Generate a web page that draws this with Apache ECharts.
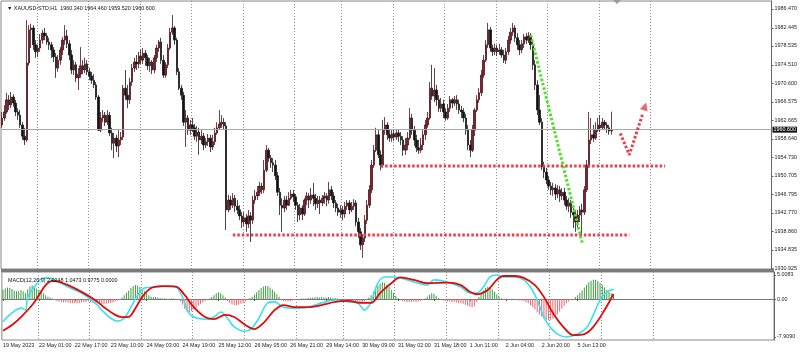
<!DOCTYPE html>
<html>
<head>
<meta charset="utf-8">
<script src="https://cdn.jsdelivr.net/npm/echarts@6/dist/echarts.min.js"></script>
<style>
  html, body { margin: 0; background: #fff; }
  #chart { width: 800px; height: 352px; }
</style>
</head>
<body>
<div id="chart"></div>
<script>
// XAUUSD H1, 19 May - 6 Jun 2023 (one entry per bar)
const opens = [
  1961.6, 1963.1, 1964.4, 1967.0, 1965.9, 1967.6, 1966.3, 1964.4, 1963.7, 1961.6,
  1959.2, 1958.4, 1974.9, 1982.0, 1982.4, 1978.8, 1977.3, 1978.1, 1979.8, 1981.3,
  1980.7, 1979.4, 1978.8, 1977.7, 1976.2, 1973.8, 1975.5, 1977.7, 1979.8, 1980.7,
  1979.0, 1976.6, 1973.4, 1974.5, 1971.7, 1972.5, 1974.3, 1973.4, 1974.7, 1973.0,
  1972.1, 1971.2, 1970.2, 1967.6, 1960.5, 1963.1, 1963.7, 1962.2, 1963.7, 1959.9,
  1957.7, 1958.8, 1957.1, 1958.4, 1959.0, 1969.5, 1968.0, 1967.0, 1970.8, 1973.8,
  1975.1, 1974.7, 1976.4, 1975.5, 1977.0, 1976.0, 1974.3, 1975.1, 1973.4, 1976.0,
  1978.1, 1979.4, 1975.5, 1972.3, 1974.5, 1978.1, 1981.5, 1982.4, 1979.8, 1973.0,
  1969.5, 1968.0, 1962.2, 1963.1, 1960.5, 1961.6, 1961.0, 1959.2, 1960.1, 1958.4,
  1959.2, 1957.3, 1958.0, 1958.8, 1956.9, 1958.0, 1959.9, 1961.0, 1961.8, 1962.2,
  1961.4, 1943.4, 1945.5, 1944.4, 1945.9, 1944.2, 1943.4, 1942.1, 1940.8, 1941.7,
  1940.4, 1942.1, 1941.2, 1945.5, 1946.4, 1947.2, 1948.5, 1947.7, 1951.9, 1956.2,
  1954.5, 1953.5, 1953.0, 1950.7, 1947.2, 1944.4, 1943.8, 1945.5, 1944.4, 1945.9,
  1946.8, 1946.2, 1944.4, 1942.3, 1943.8, 1942.5, 1945.5, 1946.4, 1945.5, 1946.6,
  1945.9, 1944.7, 1945.5, 1944.9, 1945.9, 1946.4, 1945.5, 1947.7, 1946.4, 1944.9,
  1943.8, 1942.9, 1943.4, 1942.5, 1944.2, 1944.9, 1943.4, 1944.2, 1944.9, 1940.8,
  1938.7, 1935.9, 1937.4, 1941.2, 1944.4, 1947.7, 1953.0, 1956.2, 1959.5, 1955.2,
  1953.0, 1960.5, 1961.6, 1959.5, 1958.8, 1959.7, 1959.0, 1959.9, 1959.2, 1958.4,
  1956.2, 1957.3, 1958.8, 1963.1, 1960.5, 1958.4, 1956.7, 1956.2, 1957.3, 1959.5,
  1961.6, 1963.1, 1969.5, 1967.8, 1969.1, 1967.0, 1965.2, 1966.1, 1964.4, 1963.1,
  1965.2, 1967.0, 1966.3, 1967.0, 1966.1, 1964.8, 1964.4, 1963.1, 1960.5, 1957.3,
  1956.2, 1960.5, 1964.8, 1967.0, 1968.5, 1972.3, 1975.5, 1978.8, 1982.0, 1978.1,
  1977.3, 1978.1, 1977.3, 1977.7, 1976.6, 1975.5, 1977.3, 1979.8, 1981.5, 1982.4,
  1980.3, 1978.8, 1977.7, 1979.0, 1980.5, 1979.8, 1980.7, 1978.8, 1974.5, 1970.2,
  1964.8, 1962.2, 1952.6, 1951.5, 1949.8, 1948.5, 1947.7, 1948.1, 1946.8, 1947.7,
  1946.4, 1947.2, 1945.5, 1944.2, 1944.9, 1942.9, 1942.3, 1940.8, 1942.3, 1943.4,
  1942.9, 1947.7, 1953.0, 1958.4, 1959.5, 1958.8, 1960.5, 1961.6, 1961.0, 1962.2,
  1961.6, 1961.0, 1960.34
];
const closes = [
  1963.1, 1964.4, 1967.0, 1965.9, 1967.6, 1966.3, 1964.4, 1963.7, 1961.6, 1959.2,
  1958.4, 1974.9, 1982.0, 1982.4, 1978.8, 1977.3, 1978.1, 1979.8, 1981.3, 1980.7,
  1979.4, 1978.8, 1977.7, 1976.2, 1973.8, 1975.5, 1977.7, 1979.8, 1980.7, 1979.0,
  1976.6, 1973.4, 1974.5, 1971.7, 1972.5, 1974.3, 1973.4, 1974.7, 1973.0, 1972.1,
  1971.2, 1970.2, 1967.6, 1960.5, 1963.1, 1963.7, 1962.2, 1963.7, 1959.9, 1957.7,
  1958.8, 1957.1, 1958.4, 1959.0, 1969.5, 1968.0, 1967.0, 1970.8, 1973.8, 1975.1,
  1974.7, 1976.4, 1975.5, 1977.0, 1976.0, 1974.3, 1975.1, 1973.4, 1976.0, 1978.1,
  1979.4, 1975.5, 1972.3, 1974.5, 1978.1, 1981.5, 1982.4, 1979.8, 1973.0, 1969.5,
  1968.0, 1962.2, 1963.1, 1960.5, 1961.6, 1961.0, 1959.2, 1960.1, 1958.4, 1959.2,
  1957.3, 1958.0, 1958.8, 1956.9, 1958.0, 1959.9, 1961.0, 1961.8, 1962.2, 1961.4,
  1943.4, 1945.5, 1944.4, 1945.9, 1944.2, 1943.4, 1942.1, 1940.8, 1941.7, 1940.4,
  1942.1, 1941.2, 1945.5, 1946.4, 1947.2, 1948.5, 1947.7, 1951.9, 1956.2, 1954.5,
  1953.5, 1953.0, 1950.7, 1947.2, 1944.4, 1943.8, 1945.5, 1944.4, 1945.9, 1946.8,
  1946.2, 1944.4, 1942.3, 1943.8, 1942.5, 1945.5, 1946.4, 1945.5, 1946.6, 1945.9,
  1944.7, 1945.5, 1944.9, 1945.9, 1946.4, 1945.5, 1947.7, 1946.4, 1944.9, 1943.8,
  1942.9, 1943.4, 1942.5, 1944.2, 1944.9, 1943.4, 1944.2, 1944.9, 1940.8, 1938.7,
  1935.9, 1937.4, 1941.2, 1944.4, 1947.7, 1953.0, 1956.2, 1959.5, 1955.2, 1953.0,
  1960.5, 1961.6, 1959.5, 1958.8, 1959.7, 1959.0, 1959.9, 1959.2, 1958.4, 1956.2,
  1957.3, 1958.8, 1963.1, 1960.5, 1958.4, 1956.7, 1956.2, 1957.3, 1959.5, 1961.6,
  1963.1, 1969.5, 1967.8, 1969.1, 1967.0, 1965.2, 1966.1, 1964.4, 1963.1, 1965.2,
  1967.0, 1966.3, 1967.0, 1966.1, 1964.8, 1964.4, 1963.1, 1960.5, 1957.3, 1956.2,
  1960.5, 1964.8, 1967.0, 1968.5, 1972.3, 1975.5, 1978.8, 1982.0, 1978.1, 1977.3,
  1978.1, 1977.3, 1977.7, 1976.6, 1975.5, 1977.3, 1979.8, 1981.5, 1982.4, 1980.3,
  1978.8, 1977.7, 1979.0, 1980.5, 1979.8, 1980.7, 1978.8, 1974.5, 1970.2, 1964.8,
  1962.2, 1952.6, 1951.5, 1949.8, 1948.5, 1947.7, 1948.1, 1946.8, 1947.7, 1946.4,
  1947.2, 1945.5, 1944.2, 1944.9, 1942.9, 1942.3, 1940.8, 1942.3, 1943.4, 1942.9,
  1947.7, 1953.0, 1958.4, 1959.5, 1958.8, 1960.5, 1961.6, 1961.0, 1962.2, 1961.6,
  1961.0, 1960.3, 1960.60
];
const lows = [
  1961.0, 1962.5, 1964.0, 1964.8, 1965.2, 1965.5, 1963.5, 1962.7, 1961.0, 1958.4,
  1957.3, 1958.0, 1974.3, 1978.1, 1977.7, 1976.0, 1976.2, 1977.3, 1979.0, 1979.8,
  1978.8, 1977.7, 1976.0, 1975.1, 1971.7, 1973.0, 1974.5, 1976.6, 1978.8, 1978.1,
  1975.5, 1972.5, 1972.3, 1970.8, 1969.1, 1971.7, 1972.5, 1972.7, 1972.3, 1971.2,
  1970.4, 1969.5, 1967.0, 1960.3, 1960.1, 1962.2, 1961.4, 1961.6, 1959.2, 1956.2,
  1954.5, 1955.8, 1954.7, 1957.3, 1958.4, 1967.0, 1965.2, 1966.1, 1970.0, 1973.0,
  1973.4, 1973.8, 1974.7, 1974.7, 1974.3, 1973.4, 1973.0, 1972.5, 1972.7, 1975.1,
  1977.3, 1974.7, 1971.7, 1971.7, 1973.8, 1977.7, 1980.9, 1978.8, 1972.3, 1969.1,
  1967.0, 1961.4, 1956.9, 1959.5, 1959.5, 1960.1, 1958.4, 1958.0, 1955.2, 1957.5,
  1956.2, 1956.7, 1957.1, 1955.8, 1956.2, 1957.3, 1959.5, 1960.5, 1961.0, 1960.5,
  1939.1, 1942.9, 1943.4, 1943.8, 1942.9, 1942.5, 1941.2, 1939.5, 1939.9, 1938.7,
  1939.5, 1936.5, 1940.4, 1944.7, 1945.5, 1946.4, 1946.8, 1947.0, 1951.5, 1953.7,
  1952.4, 1951.5, 1949.8, 1946.4, 1942.3, 1938.7, 1942.9, 1943.4, 1944.2, 1945.5,
  1945.1, 1943.4, 1940.8, 1941.2, 1941.2, 1942.1, 1944.4, 1943.8, 1944.7, 1944.2,
  1943.4, 1943.8, 1942.5, 1944.2, 1944.7, 1944.2, 1944.7, 1945.5, 1943.8, 1942.9,
  1942.1, 1941.7, 1941.2, 1941.7, 1943.4, 1942.5, 1942.9, 1943.4, 1939.9, 1937.4,
  1934.8, 1933.1, 1936.5, 1940.4, 1943.8, 1947.0, 1952.4, 1955.8, 1954.5, 1951.9,
  1952.4, 1959.5, 1958.4, 1958.0, 1958.0, 1958.2, 1958.4, 1958.0, 1957.3, 1955.0,
  1955.2, 1956.2, 1958.4, 1959.5, 1957.1, 1955.8, 1955.4, 1955.6, 1956.2, 1958.4,
  1961.0, 1962.7, 1967.0, 1966.5, 1965.7, 1964.4, 1964.4, 1963.1, 1962.5, 1962.7,
  1964.4, 1965.2, 1965.7, 1964.8, 1964.0, 1963.1, 1962.2, 1959.5, 1956.2, 1954.7,
  1955.8, 1959.2, 1964.4, 1966.3, 1967.8, 1971.7, 1975.1, 1978.1, 1977.3, 1976.4,
  1976.6, 1976.4, 1976.6, 1976.0, 1974.9, 1974.7, 1976.6, 1979.0, 1980.7, 1979.4,
  1977.7, 1976.6, 1977.0, 1978.1, 1979.0, 1979.2, 1977.7, 1973.4, 1969.1, 1963.7,
  1961.6, 1951.9, 1950.2, 1948.9, 1947.7, 1946.6, 1946.4, 1945.5, 1945.9, 1945.1,
  1945.5, 1944.4, 1943.4, 1942.9, 1941.7, 1939.5, 1938.7, 1939.5, 1940.8, 1937.8,
  1942.3, 1947.2, 1952.4, 1957.5, 1958.0, 1958.4, 1960.1, 1960.1, 1960.5, 1960.5,
  1959.9, 1959.5, 1959.52
];
const highs = [
  1964.4, 1965.9, 1968.5, 1968.0, 1968.7, 1968.2, 1967.0, 1965.2, 1964.8, 1962.2,
  1961.0, 1984.1, 1983.0, 1983.3, 1983.0, 1979.8, 1978.8, 1981.1, 1982.0, 1982.4,
  1981.3, 1980.3, 1979.4, 1978.3, 1977.0, 1976.6, 1978.3, 1980.5, 1983.0, 1982.0,
  1979.8, 1977.7, 1975.5, 1975.1, 1973.8, 1978.3, 1975.5, 1976.0, 1975.5, 1973.8,
  1973.0, 1972.5, 1970.8, 1968.0, 1964.4, 1964.8, 1964.4, 1964.8, 1964.4, 1961.0,
  1959.9, 1959.5, 1960.5, 1960.1, 1970.2, 1973.4, 1970.2, 1971.7, 1974.7, 1976.0,
  1976.6, 1977.3, 1977.7, 1978.1, 1977.7, 1976.6, 1976.0, 1975.5, 1976.6, 1978.8,
  1979.8, 1980.3, 1976.6, 1975.1, 1979.0, 1982.4, 1985.2, 1982.8, 1980.3, 1973.8,
  1970.2, 1968.7, 1964.8, 1963.7, 1962.7, 1963.1, 1961.8, 1961.4, 1961.0, 1960.5,
  1959.9, 1958.8, 1959.7, 1959.5, 1959.5, 1961.0, 1962.2, 1964.8, 1963.7, 1963.1,
  1962.2, 1946.6, 1946.4, 1947.0, 1946.6, 1945.5, 1944.4, 1942.9, 1942.9, 1942.5,
  1943.4, 1942.9, 1946.4, 1947.7, 1948.5, 1949.4, 1949.2, 1954.1, 1957.3, 1956.7,
  1955.2, 1954.5, 1954.1, 1951.5, 1948.1, 1945.9, 1946.4, 1946.4, 1947.2, 1947.7,
  1947.7, 1946.8, 1945.1, 1944.7, 1944.4, 1945.9, 1947.2, 1947.0, 1948.1, 1949.2,
  1946.8, 1946.4, 1946.4, 1946.6, 1947.2, 1947.0, 1949.4, 1948.5, 1947.2, 1945.5,
  1944.7, 1944.4, 1944.2, 1945.1, 1945.5, 1945.5, 1945.1, 1945.7, 1945.5, 1941.7,
  1939.5, 1938.2, 1942.3, 1945.5, 1948.7, 1954.1, 1957.3, 1961.0, 1960.5, 1956.2,
  1962.7, 1963.3, 1962.2, 1960.5, 1960.5, 1960.5, 1960.7, 1960.5, 1960.1, 1959.2,
  1958.8, 1960.1, 1965.2, 1964.0, 1961.4, 1959.5, 1958.4, 1958.8, 1960.5, 1962.7,
  1964.4, 1970.8, 1974.5, 1973.8, 1970.2, 1968.0, 1967.4, 1967.0, 1965.2, 1966.1,
  1967.8, 1967.4, 1967.8, 1968.0, 1967.0, 1965.7, 1965.2, 1964.0, 1961.6, 1958.4,
  1961.6, 1965.2, 1968.0, 1969.5, 1973.4, 1976.6, 1979.8, 1983.5, 1982.6, 1978.8,
  1979.0, 1978.8, 1979.0, 1978.3, 1977.7, 1978.1, 1980.7, 1982.4, 1983.5, 1983.0,
  1981.3, 1979.8, 1979.8, 1981.1, 1981.3, 1981.5, 1981.3, 1979.8, 1975.5, 1971.2,
  1968.0, 1963.1, 1953.7, 1952.4, 1950.7, 1949.4, 1949.2, 1948.9, 1948.7, 1948.5,
  1948.1, 1948.1, 1946.4, 1945.9, 1945.5, 1943.8, 1943.4, 1943.4, 1944.2, 1944.7,
  1948.5, 1954.1, 1964.4, 1963.1, 1961.6, 1962.2, 1963.1, 1963.7, 1963.1, 1962.7,
  1962.2, 1961.6, 1964.46
];

// MACD(12,26,9): histogram per bar, main and signal lines read at sample bars
const macdHist = [
  2.0, 2.2, 2.4, 2.3, 2.1, 1.8, 1.6, 1.7, 1.9, 1.6,
  1.2, 2.0, 2.6, 2.8, 2.6, 2.2, 1.9, 1.6, 1.2, 0.8,
  0.5, 0.3, 0.1, -0.2, -0.4, -0.5, -0.6, -0.7, -0.6, -0.7,
  -0.8, -0.9, -0.8, -0.9, -0.8, -0.7, -0.6, -0.6, -0.5, -0.6,
  -0.7, -0.8, -0.9, -1.1, -1.2, -1.1, -1.0, -0.9, -0.8, -0.7,
  -0.5, -0.3, -0.1, 0.3, 0.8, 1.3, 1.8, 2.3, 2.7, 2.9,
  2.8, 2.5, 2.1, 1.6, 1.2, 0.8, 0.5, 0.4, 0.4, 0.3,
  0.2, 0.1, 0.1, 0.05, 0.05, 0.1, 0.1, 0.0, -0.1, -0.5,
  -1.2, -2.0, -2.6, -2.7, -2.5, -2.2, -1.8, -1.4, -1.0, -0.7,
  -0.4, -0.2, 0.1, 0.4, 0.8, 1.2, 1.4, 1.2, 0.8, 0.3,
  -0.4, -0.8, -1.1, -1.3, -1.3, -1.2, -1.0, -0.8, -0.5, -0.2,
  0.2, 0.5, 0.9, 1.4, 1.9, 2.3, 2.6, 2.7, 2.7, 2.4,
  2.0, 1.5, 1.0, 0.5, -0.2, -0.4, -0.5, -0.5, -0.4, -0.3,
  -0.2, -0.1, 0.0, 0.1, 0.1, 0.1, 0.2, 0.2, 0.3, 0.3,
  0.4, 0.3, 0.4, 0.3, 0.3, 0.4, 0.3, 0.2, 0.2, 0.1,
  0.0, -0.1, -0.2, -0.3, -0.4, -0.5, -0.6, -0.7, -0.8, -0.8,
  -0.7, -0.5, -0.2, 0.3, 0.8, 1.5, 2.2, 2.8, 3.2, 3.5,
  3.4, 3.0, 2.5, 1.9, 1.3, 0.7, 0.2, -0.2, -0.4, -0.5,
  -0.6, -0.6, -0.5, -0.5, -0.6, -0.5, -0.4, -0.2, 0.1, 0.5,
  0.9, 1.2, 1.1, 0.7, 0.2, -0.1, -0.3, -0.4, -0.5, -0.5,
  -0.6, -0.6, -0.7, -0.8, -0.9, -1.0, -1.2, -1.4, -1.6, -1.7,
  -1.5, -0.6, 0.4, 1.2, 1.8, 2.3, 2.5, 2.4, 2.0, 1.5,
  1.0, 0.5, 0.1, -0.1, -0.2, -0.2, -0.1, -0.1, -0.1, -0.2,
  -0.3, -0.3, -0.4, -0.6, -0.9, -1.3, -1.7, -2.2, -2.7, -3.2,
  -3.7, -4.1, -4.4, -4.4, -4.3, -4.1, -3.7, -3.2, -2.6, -2.0,
  -1.4, -0.9, -0.5, -0.2, 0.0, 0.4, 0.8, 1.3, 1.8, 2.4,
  3.0, 3.5, 3.8, 4.0, 4.0, 3.8, 3.4, 2.9, 2.4, 1.9,
  1.5, 1.2, 0.98
];
const macdMain = [
  [0, -4.7], [4, -2.9], [8, -1.9], [10, -2.3], [11, 0.4], [14, 2.5], [17, 4.2], [20, 4.4],
  [25, 3.5], [29, 2.5], [35, 1.25], [41, -0.8], [44, -2.3], [48, -4.0], [51, -4.6], [54, -4.0],
  [57, -1.7], [60, 0.8], [63, 2.3], [68, 2.5], [72, 2.7], [77, 2.5], [80, 0.4], [82, -2.3],
  [85, -3.75], [91, -4.2], [94, -3.75], [97, -2.7], [100, -4.0], [103, -5.8], [108, -6.7], [111, -6.0],
  [114, -4.0], [118, -0.8], [121, -0.6], [125, -1.7], [130, -1.9], [136, -1.7], [142, -0.8], [148, -0.2],
  [154, -0.6], [158, -0.8], [161, -2.3], [164, -0.6], [167, 3.3], [170, 4.6], [174, 4.6], [177, 4.4],
  [185, 3.3], [189, 2.9], [192, 4.0], [198, 3.5], [204, 2.5], [208, 1.25], [211, 1.25], [214, 2.5],
  [217, 4.6], [220, 5.0], [223, 4.6], [228, 4.6], [232, 4.0], [235, 2.5], [238, -0.2], [241, -3.75],
  [244, -6.0], [247, -7.3], [251, -7.9], [256, -7.3], [260, -6.0], [263, -3.3], [266, -0.2], [269, 1.5],
  [272, 2.02]
];
const macdSignal = [
  [0, -6.6], [4, -5.4], [8, -3.75], [13, -1.25], [16, 0.8], [19, 2.9], [22, 3.8], [25, 3.6],
  [29, 2.9], [35, 1.5], [41, -0.2], [45, -1.7], [50, -3.3], [53, -3.75], [56, -3.7], [59, -1.9],
  [62, 0.4], [66, 2.3], [71, 2.7], [77, 2.6], [81, 0.8], [85, -1.7], [90, -3.75], [94, -4.2],
  [99, -3.3], [103, -3.75], [108, -5.4], [112, -6.25], [116, -5.0], [121, -2.3], [125, -1.25], [130, -1.7],
  [136, -1.7], [142, -1.25], [148, -0.6], [154, -0.4], [159, -0.8], [164, -0.8], [168, 1.25], [173, 3.3],
  [177, 4.5], [183, 4.0], [189, 3.3], [198, 3.4], [204, 2.9], [208, 1.5], [211, 1.0], [216, 1.9],
  [220, 4.0], [223, 4.8], [228, 4.8], [232, 4.4], [237, 2.9], [241, 0.4], [245, -2.9], [250, -6.0],
  [254, -7.5], [259, -7.3], [263, -5.8], [268, -2.3], [272, 1.05]
];
const macdHeader = ['2.0248', '1.0473', '0.9775', '0.0000'];

// hand-drawn annotations, as [bar, price]
const lowerSupport = [[103, 1938.0], [280, 1938.0]];
const upperSupport = [[169, 1952.8], [296, 1952.8]];
const greenTrend = [[236, 1980.9], [259, 1936.3]];
const arrowPath = [[276, 1959.8], [280, 1955.2], [286, 1964.0]];
const arrowHead = [[287, 1965.6]];

// axes
const priceTicks = [1986.470, 1982.445, 1978.535, 1974.510, 1970.600, 1966.575, 1962.665, 1958.640,
  1954.730, 1950.705, 1946.795, 1942.770, 1938.860, 1934.835, 1930.925];
const macdTicks = [5.0083, 0, -7.909];
const macdTickLabels = ['5.0083', '0.00', '-7.9090'];
const dayStarts = [16, 39, 62, 85, 108, 131, 152, 175, 198, 221, 244, 267, 290];
const dateLabelIdx = [0, 16, 32, 48, 64, 80, 96, 112, 128, 144, 160, 176, 192, 208, 224, 240, 256];
const dateLabels = ['19 May 2023', '22 May 01:00', '22 May 17:00', '23 May 10:00', '24 May 03:00',
  '24 May 19:00', '25 May 12:00', '26 May 05:00', '26 May 21:00', '29 May 14:00', '30 May 09:00',
  '31 May 02:00', '31 May 18:00', '1 Jun 11:00', '2 Jun 04:00', '2 Jun 20:00', '5 Jun 13:00'];

const slotCount = 344;
const priceMin = 1930.726, priceMax = 1988.185;
const macdMin = -8.534, macdMax = 5.633;

const FONT = "'Liberation Sans', Arial, sans-serif";
const RED_DOT = '#e6404c';
const GRID_DOT = '#8c8c8c';

const categories = Array.from({ length: slotCount }, (_, i) => String(i));
const candles = opens.map((o, i) => [o, closes[i], lows[i], highs[i]]);
const last = closes.length - 1;
const header = `▼ XAUUSD-STD,H1  ${opens[last].toFixed(3)} ${highs[last].toFixed(3)} ` +
  `${lows[last].toFixed(3)} ${closes[last].toFixed(3)}`;

function dottedLine(data, color) {
  return {
    type: 'line', xAxisIndex: 0, yAxisIndex: 0, data, symbol: 'none', silent: true, z: 5,
    lineStyle: { color, width: 3, type: [2.5, 2] },
  };
}

const daySplit = {
  show: true,
  interval: (i) => dayStarts.includes(i),
  lineStyle: { color: GRID_DOT, width: 1, type: [1, 2] },
};

const chart = echarts.init(document.getElementById('chart'), null, { renderer: 'canvas' });
chart.setOption({
  animation: false,
  backgroundColor: '#fff',
  textStyle: { fontFamily: FONT },
  title: [
    { text: header, left: 2, top: 1, textStyle: { fontSize: 5.4, fontWeight: 'normal', color: '#111', fontFamily: FONT } },
    { text: 'MACD(12,26,9) ' + macdHeader.join(' '), left: 3, top: 273,
      textStyle: { fontSize: 5.4, fontWeight: 'normal', color: '#111', fontFamily: FONT } },
  ],
  grid: [
    { left: 1, top: 1, width: 773, height: 268, show: true, borderColor: '#888', borderWidth: 1 },
    { left: 1, top: 272, width: 773, height: 68, show: true, borderColor: '#888', borderWidth: 1 },
  ],
  xAxis: [
    {
      type: 'category', gridIndex: 0, data: categories, boundaryGap: true,
      axisLine: { show: false }, axisTick: { show: false }, axisLabel: { show: false },
      splitLine: daySplit,
    },
    {
      type: 'category', gridIndex: 1, data: categories, boundaryGap: true,
      axisLine: { show: true, lineStyle: { color: '#777' } },
      axisTick: { show: true, alignWithLabel: true, length: 2, interval: (i) => dateLabelIdx.includes(i), lineStyle: { color: '#555' } },
      axisLabel: {
        interval: (i) => dateLabelIdx.includes(i),
        formatter: (v, i) => dateLabels[dateLabelIdx.indexOf(i)] || '',
        align: 'left', fontSize: 5.4, color: '#222', margin: 3, fontFamily: FONT,
      },
      splitLine: daySplit,
    },
  ],
  yAxis: [
    {
      type: 'value', gridIndex: 0, position: 'right', min: priceMin, max: priceMax, scale: true,
      axisLine: { show: true, lineStyle: { color: '#666' } },
      axisTick: { show: true, length: 2, customValues: priceTicks, lineStyle: { color: '#666' } },
      axisLabel: { customValues: priceTicks, formatter: (v) => v.toFixed(3), fontSize: 5.4, color: '#222', margin: 3, fontFamily: FONT },
      splitLine: { show: false },
    },
    {
      type: 'value', gridIndex: 1, position: 'right', min: macdMin, max: macdMax,
      axisLine: { show: true, lineStyle: { color: '#666' } },
      axisTick: { show: true, length: 2, customValues: macdTicks, lineStyle: { color: '#666' } },
      axisLabel: {
        customValues: macdTicks,
        formatter: (v) => {
          let k = 0;
          macdTicks.forEach((t, j) => { if (Math.abs(t - v) < Math.abs(macdTicks[k] - v)) k = j; });
          return macdTickLabels[k];
        },
        fontSize: 5.4, color: '#222', margin: 3, fontFamily: FONT,
      },
      splitLine: { show: false },
    },
  ],
  graphic: [
    { type: 'rect', shape: { x: 1, y: 269, width: 773, height: 3 }, style: { fill: '#7a7a7a' }, z: 10 },
    { type: 'polygon', shape: { points: [[613, 0], [621, 0], [617, 4]] }, style: { fill: '#9a9a9a' }, z: 10 },
  ],
  series: [
    {
      type: 'candlestick', xAxisIndex: 0, yAxisIndex: 0, data: candles, barWidth: 2,
      itemStyle: { color: '#7e2432', color0: '#111', borderColor: '#4e121b', borderColor0: '#1a1a1a', borderWidth: 0.8 },
      markLine: {
        silent: true, symbol: 'none', animation: false,
        lineStyle: { color: '#a6a6a6', width: 1, type: 'solid' },
        label: {
          position: 'end', distance: 1, formatter: closes[last].toFixed(3),
          color: '#fff', backgroundColor: '#111', padding: [1, 1, 0, 1], fontSize: 5.4, fontFamily: FONT,
        },
        data: [{ yAxis: closes[last] }],
      },
    },
    dottedLine(lowerSupport, RED_DOT),
    dottedLine(upperSupport, RED_DOT),
    dottedLine(greenTrend, '#4ede2c'),
    dottedLine(arrowPath, RED_DOT),
    {
      type: 'scatter', xAxisIndex: 0, yAxisIndex: 0, data: arrowHead, silent: true, z: 6,
      symbol: 'triangle', symbolSize: [8, 8], symbolRotate: -18, itemStyle: { color: RED_DOT },
    },
    {
      type: 'bar', xAxisIndex: 1, yAxisIndex: 1, data: macdHist, barWidth: 1, silent: true,
      itemStyle: { color: (p) => (p.value >= 0 ? '#3e9a42' : '#e4666f') },
    },
    {
      type: 'line', xAxisIndex: 1, yAxisIndex: 1, data: macdMain, symbol: 'none', smooth: 0.35, silent: true,
      lineStyle: { color: '#36e2ee', width: 1.6 },
    },
    {
      type: 'line', xAxisIndex: 1, yAxisIndex: 1, data: macdSignal, symbol: 'none', smooth: 0.35, silent: true,
      lineStyle: { color: '#e00a0a', width: 1.8 },
    },
  ],
});
</script>
</body>
</html>
